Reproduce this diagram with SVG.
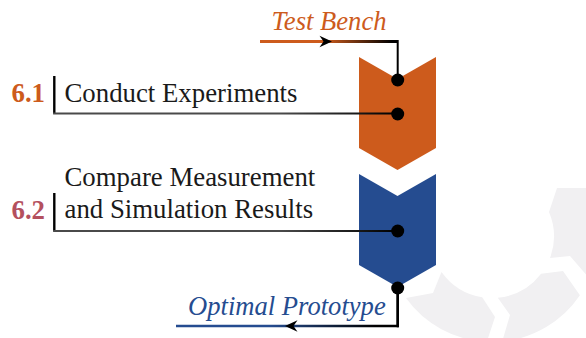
<svg xmlns="http://www.w3.org/2000/svg" width="586" height="338" viewBox="0 0 586 338">
  <defs>
    <style>
      .txt { font-family: "Liberation Serif", "Times New Roman", serif; font-size: 26.8px; }
      .it { font-style: italic; font-size: 26.6px; }
      .num { font-weight: bold; }
      .gear { fill: #f1f0f2; }
      .dot { fill: #000; }
      .wire { fill: none; stroke-linejoin: miter; }
    </style>
    <linearGradient id="gIn" gradientUnits="userSpaceOnUse" x1="325" y1="0" x2="392" y2="0">
      <stop offset="0" stop-color="#cd5b1c"/>
      <stop offset="1" stop-color="#000"/>
    </linearGradient>
    <linearGradient id="gOut" gradientUnits="userSpaceOnUse" x1="270" y1="0" x2="375" y2="0">
      <stop offset="0" stop-color="#254c90"/>
      <stop offset="1" stop-color="#000"/>
    </linearGradient>
    <linearGradient id="gLead" gradientUnits="userSpaceOnUse" x1="280" y1="0" x2="395" y2="0">
      <stop offset="0" stop-color="#4a4a4a"/>
      <stop offset="1" stop-color="#000"/>
    </linearGradient>
    <path id="stealth" d="M0,0 L-12.5,-5.8 L-8.5,0 L-12.5,5.8 Z" fill="#000"/>
  </defs>

  <!-- background gear ring, three chevron segments -->
  <g id="gear">
    <path class="gear" d="M549,212 L557,188 L586.4,187.9 A106,106 0 0 1 589.2,278.3 L570,256 L550,258 A62,62 0 0 0 549,212 Z"/>
    <path class="gear" d="M541.1,273.8 L563,271 L579.9,295.3 A106,106 0 0 1 502.2,341.5 L510,315 L497.8,297.7 A62,62 0 0 0 541.1,273.8 Z"/>
    <path class="gear" d="M482.2,297.2 L495,317 L486.8,341.9 A106,106 0 0 1 406,298 L433,293 L441.5,271.9 A62,62 0 0 0 482.2,297.2 Z"/>
  </g>

  <!-- process step chevrons -->
  <g id="step-experiments">
    <polygon points="359,57 397.5,79 436,57 436,148 397.5,170 359,148" fill="#cd5b1c"/>
  </g>
  <g id="step-compare">
    <polygon points="359,174 397.5,196 436,174 436,265 397.5,287 359,265" fill="#254c90"/>
  </g>

  <!-- connectors -->
  <g id="connectors">
    <path class="wire" d="M260,41.5 H397.7" stroke="url(#gIn)" stroke-width="3"/>
    <path class="wire" d="M397.7,40 V80" stroke="#000" stroke-width="2"/>
    <use href="#stealth" transform="translate(332,41.5)"/>

    <path class="wire" d="M54.3,76 V113.5" stroke="#000" stroke-width="2.4"/>
    <path class="wire" d="M53.1,113.5 H397.7" stroke="url(#gLead)" stroke-width="2"/>

    <path class="wire" d="M54.3,193 V231" stroke="#000" stroke-width="2.4"/>
    <path class="wire" d="M53.1,231 H397.7" stroke="url(#gLead)" stroke-width="2"/>

    <path class="wire" d="M397.7,288 V326 H176" stroke="url(#gOut)" stroke-width="2.6"/>
    <path class="wire" d="M397.7,288 V327.3" stroke="#000" stroke-width="2"/>
    <use href="#stealth" transform="translate(285,326) rotate(180)"/>

    <circle class="dot" cx="397.7" cy="80" r="6.5"/>
    <circle class="dot" cx="397.7" cy="114" r="6.5"/>
    <circle class="dot" cx="397.7" cy="231" r="6.5"/>
    <circle class="dot" cx="397.7" cy="288" r="6.5"/>
  </g>

  <!-- labels -->
  <g id="input-test-bench">
    <text class="txt it" x="271.5" y="29.5" fill="#cd5b1c">Test Bench</text>
  </g>
  <g id="label-6-1">
    <text class="txt num" x="11.5" y="102" fill="#cd5b1c">6.1</text>
    <text class="txt" x="64.5" y="102" fill="#1a1a1a">Conduct Experiments</text>
  </g>
  <g id="label-6-2">
    <text class="txt num" x="11.5" y="219" fill="#b4505e">6.2</text>
    <text class="txt" x="64.5" y="186" fill="#1a1a1a">Compare Measurement</text>
    <text class="txt" x="64.5" y="218" fill="#1a1a1a">and Simulation Results</text>
  </g>
  <g id="output-optimal-prototype">
    <text class="txt it" x="188" y="315" fill="#254c90">Optimal Prototype</text>
  </g>
</svg>
